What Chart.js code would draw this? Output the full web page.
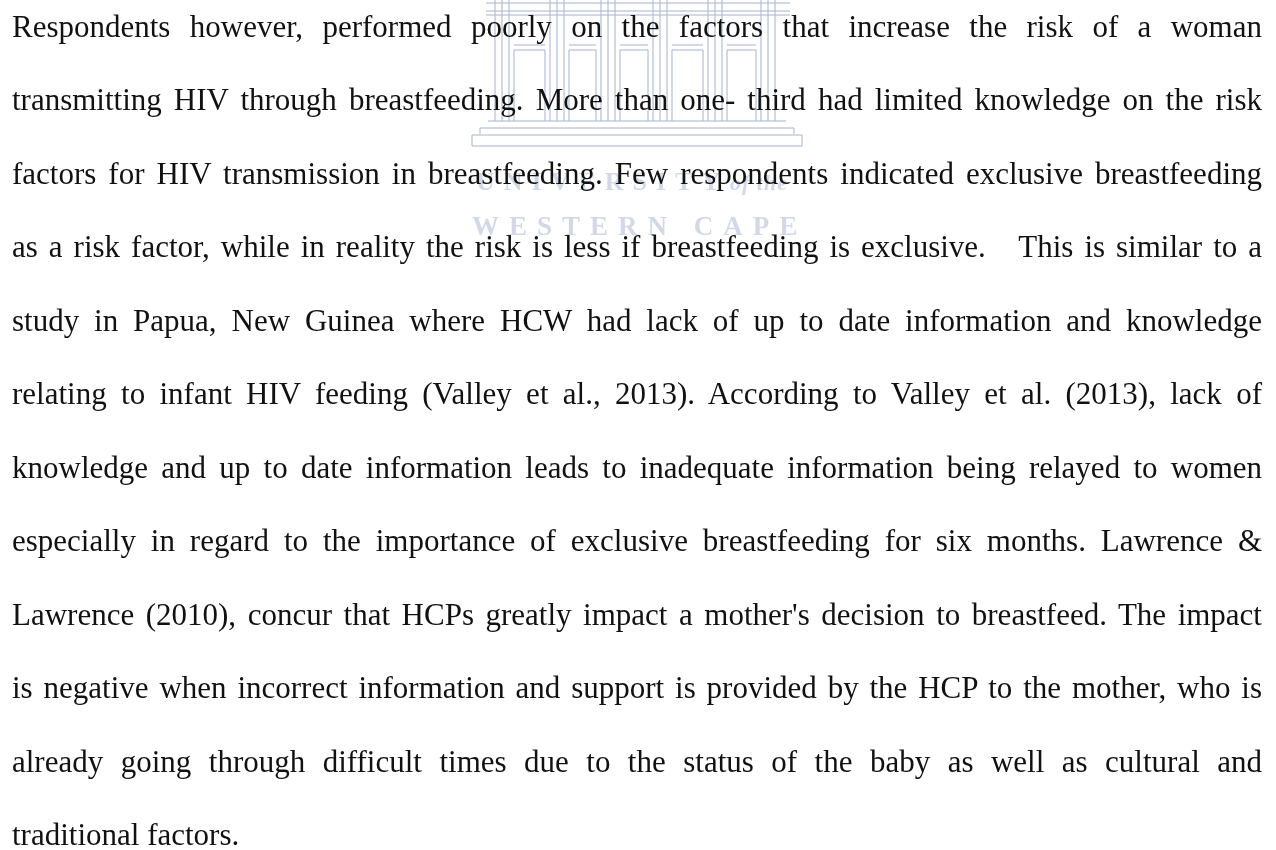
<!DOCTYPE html>
<html>
<head>
<meta charset="utf-8">
<script src="https://cdn.jsdelivr.net/npm/chart.js@4.4.1/dist/chart.umd.min.js"></script>
<style>
  html, body { margin: 0; padding: 0; background: #fff; }
  body { width: 1276px; height: 850px; position: relative; overflow: hidden; }
  #mark { position: absolute; left: 0; top: 0; z-index: 0; }
  #page {
    position: absolute; left: 12px; top: -10px; width: 1250px; z-index: 1;
    font-family: "Liberation Serif", "Times New Roman", serif;
    font-size: 31px; line-height: 73.45px; color: #111;
  }
  .ln { text-align: justify; text-align-last: justify; white-space: pre-wrap; }
  .ln.last { text-align: left; text-align-last: left; }
</style>
</head>
<body>
<canvas id="mark" width="1276" height="850"></canvas>
<div id="page"></div>
<script>
// ----------------------
// Page text, one entry per printed line
// ----------------------
const bodyLines = [
  "Respondents however, performed poorly on the factors that increase the risk of a woman",
  "transmitting HIV through breastfeeding. More than one- third had limited knowledge on the risk",
  "factors for HIV transmission in breastfeeding. Few respondents indicated exclusive breastfeeding",
  "as a risk factor, while in reality the risk is less if breastfeeding is exclusive.   This is similar to a",
  "study in Papua, New Guinea where HCW had lack of up to date information and knowledge",
  "relating to infant HIV feeding (Valley et al., 2013). According to Valley et al. (2013), lack of",
  "knowledge and up to date information leads to inadequate information being relayed to women",
  "especially in regard to the importance of exclusive breastfeeding for six months. Lawrence &",
  "Lawrence (2010), concur that HCPs greatly impact a mother's decision to breastfeed. The impact",
  "is negative when incorrect information and support is provided by the HCP to the mother, who is",
  "already going through difficult times due to the status of the baby as well as cultural and",
  "traditional factors."
];

// watermark labels
const markTop = "UNIVERSITY";
const markTopSmall = "of the";
const markBottom = "WESTERN CAPE";

const page = document.getElementById("page");
bodyLines.forEach((t, i) => {
  const d = document.createElement("div");
  d.className = "ln" + (i === bodyLines.length - 1 ? " last" : "");
  d.textContent = t;
  page.appendChild(d);
});

// ----------------------
// Watermark drawn on a blank Chart.js canvas
// ----------------------
const markColor = "rgba(180,190,214,0.6)";

const watermark = {
  id: "watermark",
  afterDraw(chart) {
    const ctx = chart.ctx;
    ctx.save();
    ctx.strokeStyle = markColor;
    ctx.fillStyle = markColor;
    ctx.lineWidth = 2;

    const line = (x1, y1, x2, y2) => {
      ctx.beginPath(); ctx.moveTo(x1, y1); ctx.lineTo(x2, y2); ctx.stroke();
    };

    // entablature
    line(486, 3, 790, 3);
    line(486, 11, 790, 11);
    line(486, 15, 790, 15);

    // columns
    const cols = [502, 557, 608, 660, 715, 768];
    cols.forEach(cx => {
      line(cx - 7, 0, cx - 7, 121);
      line(cx, 0, cx, 121);
      line(cx + 7, 0, cx + 7, 121);
    });

    // doors between columns
    for (let i = 0; i < cols.length - 1; i++) {
      const a = cols[i] + 12, b = cols[i + 1] - 12;
      line(a, 45, b, 45);
      line(a, 50, b, 50);
      line(a, 50, a, 121);
      line(b, 50, b, 121);
    }

    // steps
    line(488, 121, 786, 121);
    line(480, 128, 794, 128);
    line(480, 128, 480, 134);
    line(794, 128, 794, 134);
    line(472, 135, 802, 135);
    line(472, 135, 472, 146);
    line(802, 135, 802, 146);
    line(472, 146, 802, 146);

    // labels
    ctx.textBaseline = "alphabetic";
    ctx.font = "bold 26px 'Liberation Serif'";
    if ("letterSpacing" in ctx) ctx.letterSpacing = "9px";
    ctx.fillText(markTop, 476, 190);
    ctx.font = "italic bold 22px 'Liberation Serif'";
    if ("letterSpacing" in ctx) ctx.letterSpacing = "1px";
    ctx.fillText(markTopSmall, 730, 190);
    ctx.font = "bold 27px 'Liberation Serif'";
    if ("letterSpacing" in ctx) ctx.letterSpacing = "10px";
    ctx.fillText(markBottom, 472, 235);
    ctx.restore();
  }
};

new Chart(document.getElementById("mark"), {
  type: "scatter",
  data: { datasets: [] },
  options: {
    responsive: false,
    animation: false,
    events: [],
    plugins: { legend: { display: false }, tooltip: { enabled: false } },
    scales: { x: { display: false }, y: { display: false } }
  },
  plugins: [watermark]
});
</script>
</body>
</html>
